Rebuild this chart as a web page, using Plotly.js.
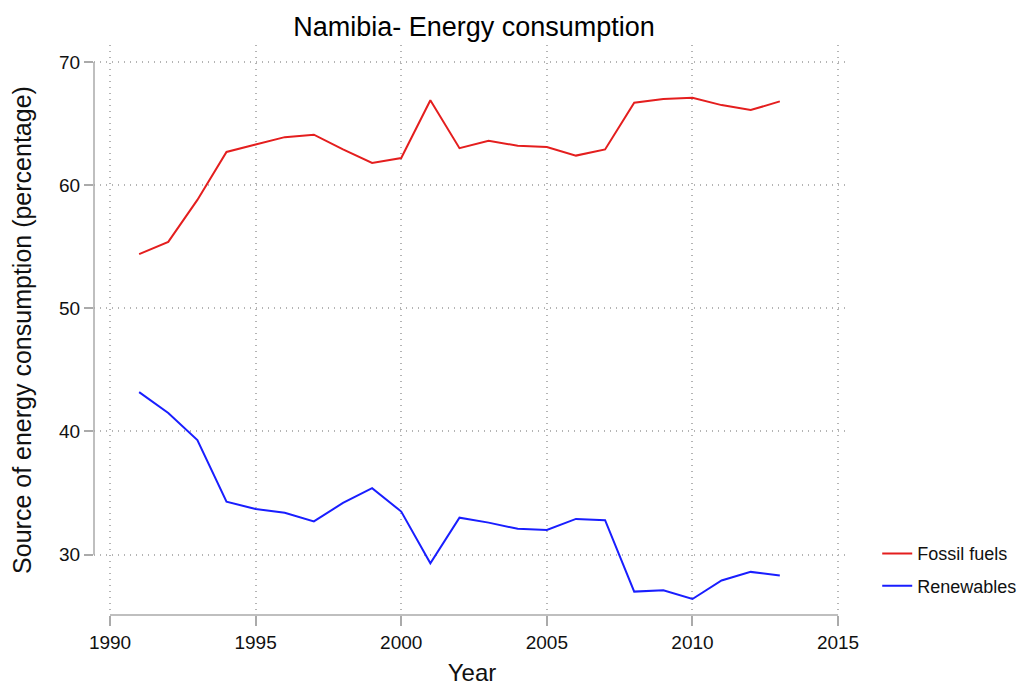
<!DOCTYPE html>
<html>
<head>
<meta charset="utf-8">
<script src="https://cdn.plot.ly/plotly-3.0.1.min.js"></script>
<style>
  html, body { margin: 0; padding: 0; background: #fff; }
  #chart { width: 1035px; height: 686px; }
</style>
</head>
<body>
<div id="chart"></div>
<script>
// values
var years = [1991, 1992, 1993, 1994, 1995, 1996, 1997, 1998, 1999, 2000, 2001, 2002,
             2003, 2004, 2005, 2006, 2007, 2008, 2009, 2010, 2011, 2012, 2013];
var fossil = [54.4, 55.4, 58.8, 62.7, 63.3, 63.9, 64.1, 62.9, 61.8, 62.2, 66.9, 63.0,
              63.6, 63.2, 63.1, 62.4, 62.9, 66.7, 67.0, 67.1, 66.5, 66.1, 66.8];
var renew = [43.2, 41.5, 39.3, 34.3, 33.7, 33.4, 32.7, 34.2, 35.4, 33.5, 29.3, 33.0,
             32.6, 32.1, 32.0, 32.9, 32.8, 27.0, 27.1, 26.4, 27.9, 28.6, 28.3];
var xTicks = [1990, 1995, 2000, 2005, 2010, 2015];
var yTicks = [30, 40, 50, 60, 70];

var font = "Liberation Sans, Arial, Helvetica, sans-serif";

var data = [
    {
    type: "scatter",
    mode: "lines",
    x: years,
    y: fossil,
    name: "Fossil fuels",
    legendgroup: "a",
    line: { color: "rgb(228, 30, 30)", width: 2 }
    },
    {
    type: "scatter",
    mode: "lines",
    x: years,
    y: renew,
    name: "Renewables",
    legendgroup: "b",
    line: { color: "rgb(25, 30, 255)", width: 2 }
    }
];

var layout = {
    width: 1035,
    height: 686,
    margin: { l: 94, r: 185, t: 45, b: 71 },
    paper_bgcolor: "#fff",
    plot_bgcolor: "#fff",
    font: { family: font, color: "#111", size: 19 },
    title: {
    text: "Namibia- Energy consumption",
    font: { family: font, size: 27, color: "#000" },
    x: 0.458, xanchor: "center",
    y: 0.962, yanchor: "middle"
    },
    xaxis: {
    range: [1989.45, 2015.41],
    tickvals: xTicks,
    ticks: "outside",
    ticklen: 10,
    tickcolor: "#aaa",
    tickwidth: 1.5,
    showgrid: true,
    gridcolor: "#b4b4b4",
    griddash: "1px,5px",
    gridwidth: 1.5,
    zeroline: false,
    showline: false,
    tickfont: { size: 19 },
    title: { text: "Year", font: { size: 24 }, standoff: 16 }
    },
    yaxis: {
    range: [25.1, 71.38],
    tickvals: yTicks,
    ticks: "outside",
    ticklen: 9,
    tickcolor: "#aaa",
    tickwidth: 1.5,
    showgrid: true,
    gridcolor: "#b4b4b4",
    griddash: "1px,5px",
    gridwidth: 1.5,
    zeroline: false,
    showline: false,
    tickfont: { size: 19 },
    title: { text: "Source of energy consumption (percentage)", font: { size: 25 }, standoff: 20 }
    },
    shapes: [
    {
        // x axis line spanning the tick range
        type: "line", xref: "x", yref: "paper",
        x0: xTicks[0], x1: xTicks[xTicks.length - 1], y0: 0, y1: 0,
        line: { color: "#aaa", width: 1.5 }
    },
    {
        // y axis line spanning the tick range
        type: "line", xref: "paper", yref: "y",
        x0: 0, x1: 0, y0: yTicks[0], y1: yTicks[yTicks.length - 1],
        line: { color: "#aaa", width: 1.5 }
    }
    ],
    showlegend: true,
    legend: {
    x: 1.036, xanchor: "left",
    y: 0.14, yanchor: "top",
    font: { size: 18, color: "#111" },
    traceorder: "grouped",
    tracegroupgap: 6,
    bgcolor: "rgba(0,0,0,0)"
    }
};

Plotly.newPlot(document.getElementById("chart"), data, layout, { displayModeBar: false });
</script>
</body>
</html>
